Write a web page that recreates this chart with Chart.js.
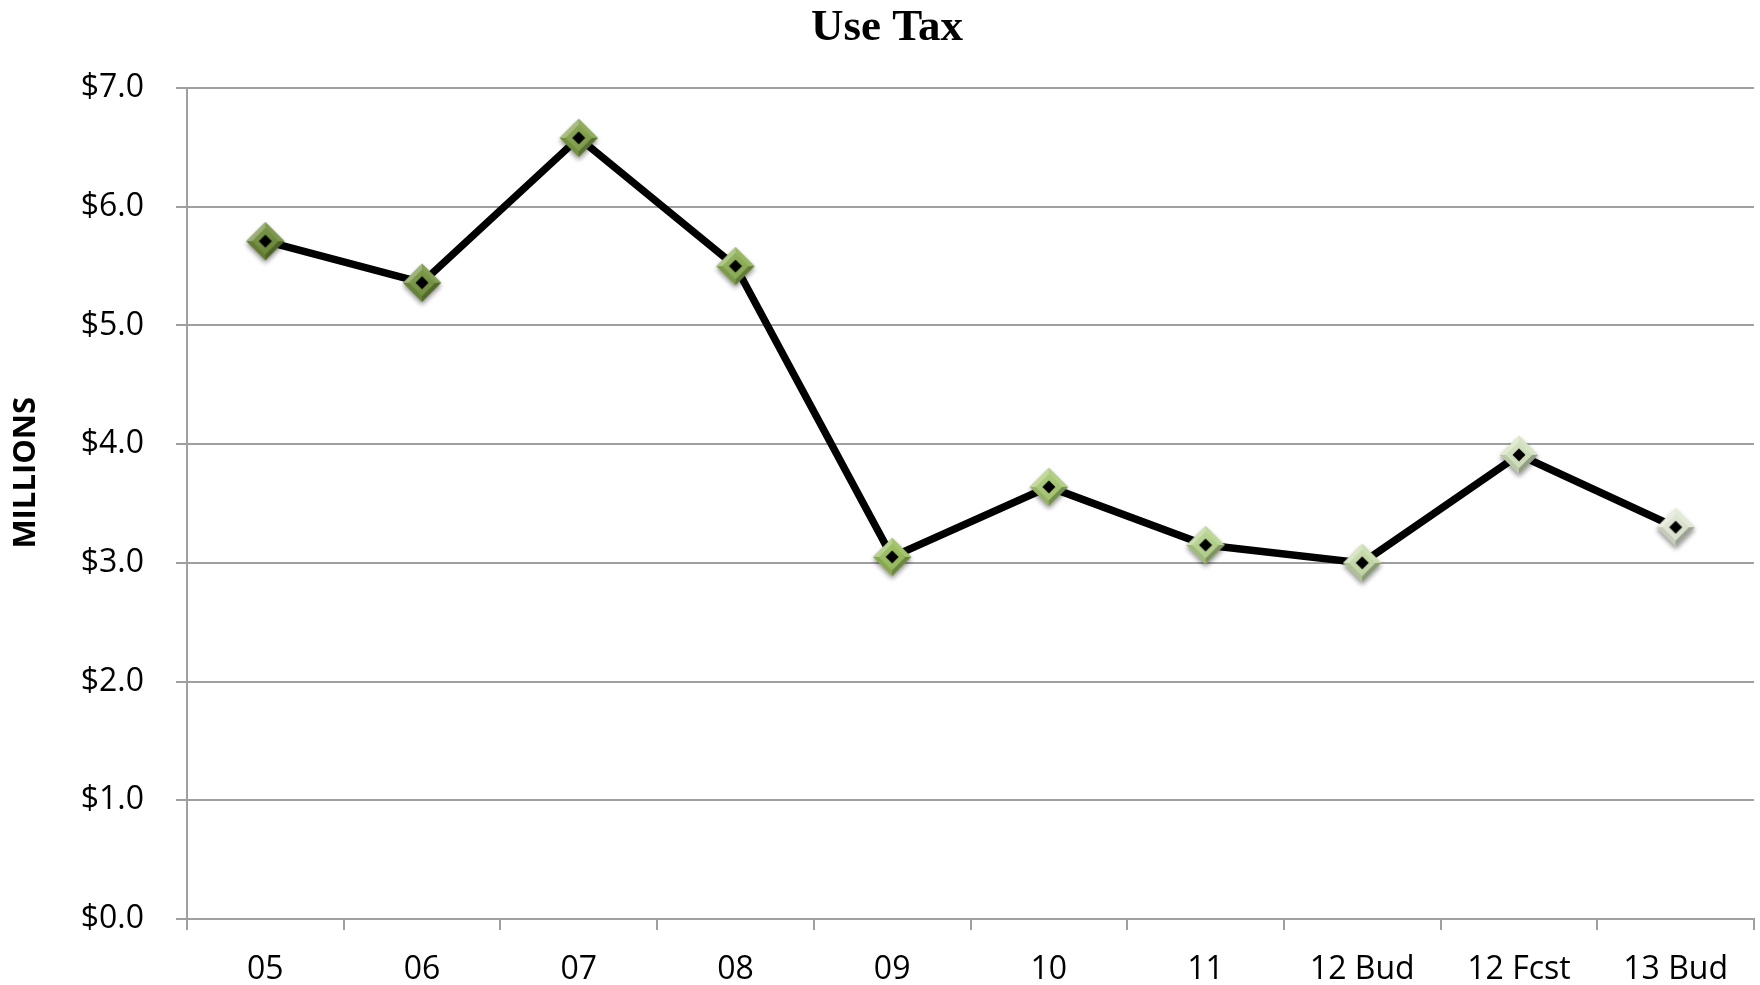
<!DOCTYPE html>
<html>
<head>
<meta charset="utf-8">
<title>Use Tax</title>
<script src="https://cdn.jsdelivr.net/npm/chart.js@4"></script>
<style>
  html, body { margin: 0; padding: 0; background: #ffffff; }
  #wrap { width: 1760px; height: 985px; }
</style>
</head>
<body>
<div id="wrap"><canvas id="chart" width="1760" height="985"></canvas></div>
<script>
// Fiscal-year categories and use tax revenue (in millions of dollars)
const categories = ['05', '06', '07', '08', '09', '10', '11', '12 Bud', '12 Fcst', '13 Bud'];
const useTaxMillions = [5.71, 5.36, 6.58, 5.50, 3.05, 3.64, 3.15, 3.00, 3.91, 3.30];
const yTickValues = [0, 1, 2, 3, 4, 5, 6, 7];

// Marker face colours, fading from dark olive to pale green over the years
const markerFaces = ['#6f8d3a', '#759440', '#82a24a', '#8daf54', '#9abe5d',
                     '#a9ca75', '#b6d28d', '#c6dba9', '#d3e2bf', '#dfe7d3'];

function mix(hex, target, t) {
  const a = parseInt(hex.slice(1), 16);
  const r = (a >> 16) & 255, g = (a >> 8) & 255, b = a & 255;
  const tr = target === 'white' ? 255 : 0;
  const m = v => Math.round(v + (tr - v) * t);
  return `rgb(${m(r)},${m(g)},${m(b)})`;
}

// Bevelled diamond marker with a black centre and a soft drop shadow
function makeMarker(face) {
  const size = 56, c = size / 2, R = 19, r = 13, k = 6.5;
  const cv = document.createElement('canvas');
  cv.width = size; cv.height = size;
  const ctx = cv.getContext('2d');
  const diamond = (h) => {
    ctx.beginPath();
    ctx.moveTo(c, c - h); ctx.lineTo(c + h, c); ctx.lineTo(c, c + h); ctx.lineTo(c - h, c);
    ctx.closePath();
  };
  // shadow
  ctx.save();
  ctx.shadowColor = 'rgba(0,0,0,0.45)';
  ctx.shadowBlur = 5;
  ctx.shadowOffsetY = 3;
  diamond(R);
  ctx.fillStyle = face;
  ctx.fill();
  ctx.restore();
  // facets
  const facet = (p1, p2, p3, p4, col) => {
    ctx.beginPath();
    ctx.moveTo(p1[0], p1[1]); ctx.lineTo(p2[0], p2[1]); ctx.lineTo(p3[0], p3[1]); ctx.lineTo(p4[0], p4[1]);
    ctx.closePath(); ctx.fillStyle = col; ctx.fill();
  };
  const T = [c, c - R], Rr = [c + R, c], B = [c, c + R], L = [c - R, c];
  const t = [c, c - r], rr = [c + r, c], b = [c, c + r], l = [c - r, c];
  facet(L, T, t, l, mix(face, 'white', 0.30));
  facet(T, Rr, rr, t, mix(face, 'white', 0.10));
  facet(L, B, b, l, mix(face, 'black', 0.12));
  facet(B, Rr, rr, b, mix(face, 'black', 0.30));
  // flat inner face
  const g = ctx.createLinearGradient(c - r, c - r, c + r, c + r);
  g.addColorStop(0, mix(face, 'white', 0.08));
  g.addColorStop(1, mix(face, 'black', 0.05));
  diamond(r);
  ctx.fillStyle = g;
  ctx.fill();
  // black centre
  diamond(k);
  ctx.fillStyle = '#000000';
  ctx.fill();
  return cv;
}

const markerImages = markerFaces.map(makeMarker);

const gridColor = '#9f9f9f';
const tickFont = { family: '"Open Sans", "Liberation Sans", sans-serif', size: 32 };

// Draws the rotated axis caption to the left of the value axis
const axisCaption = {
  id: 'axisCaption',
  afterDraw(chart) {
    const { ctx, chartArea } = chart;
    ctx.save();
    ctx.translate(26, chartArea.top + (chartArea.bottom - chartArea.top) * 0.463);
    ctx.rotate(-Math.PI / 2);
    ctx.font = 'bold 31px "Open Sans", "Liberation Sans", sans-serif';
    ctx.fillStyle = '#000000';
    ctx.textAlign = 'center';
    ctx.textBaseline = 'middle';
    ctx.fillText('MILLIONS', 0, 0);
    ctx.restore();
  }
};

new Chart(document.getElementById('chart'), {
  type: 'line',
  data: {
    labels: categories,
    datasets: [{
      label: 'Use Tax',
      data: useTaxMillions,
      borderColor: '#000000',
      borderWidth: 7.5,
      tension: 0,
      fill: false,
      pointStyle: markerImages,
      pointRadius: 19,
      pointHoverRadius: 19
    }]
  },
  options: {
    responsive: false,
    devicePixelRatio: 1,
    animation: false,
    layout: { autoPadding: false, padding: { left: 20, right: 6, top: 0, bottom: 0 } },
    plugins: {
      legend: { display: false },
      tooltip: { enabled: false },
      title: {
        display: true,
        text: 'Use Tax',
        color: '#000000',
        font: { family: '"Liberation Serif", "Times New Roman", serif', size: 45, weight: 'bold', lineHeight: 1 },
        padding: { top: 6, bottom: 37 }
      }
    },
    scales: {
      x: {
        offset: true,
        grid: { offset: true, drawOnChartArea: false, drawTicks: true, tickLength: 11, color: gridColor, lineWidth: 2 },
        border: { display: true, color: gridColor, width: 2 },
        ticks: { color: '#000000', font: tickFont, padding: 21, maxRotation: 0, autoSkip: false },
        afterFit(scale) { scale.height = 66; }
      },
      y: {
        min: 0,
        max: 7,
        afterBuildTicks(scale) { scale.ticks = yTickValues.map(v => ({ value: v })); },
        grid: { drawTicks: true, tickLength: 11, color: gridColor, lineWidth: 2 },
        border: { display: true, color: gridColor, width: 2 },
        ticks: {
          color: '#000000',
          font: tickFont,
          padding: 32,
          callback: v => '$' + Number(v).toFixed(1)
        },
        afterFit(scale) { scale.width = 167; }
      }
    }
  },
  plugins: [axisCaption]
});
</script>
</body>
</html>
